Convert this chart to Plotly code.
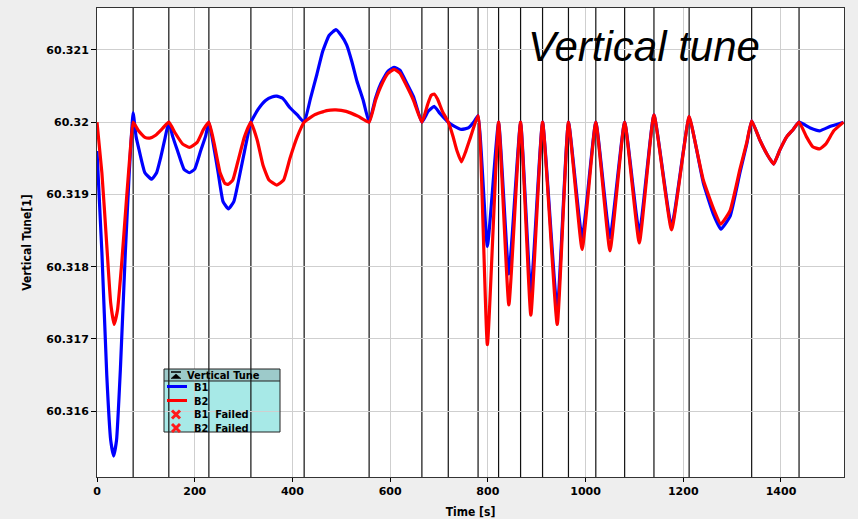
import plotly.graph_objects as go

# ---- data ----
t_b1 = [0, 10, 20, 28, 34, 40, 48, 58, 66, 74,
        80, 86, 98, 112, 122, 130, 138, 147,
        155, 165, 178, 189, 200, 212, 222, 229,
        238, 248, 258, 269, 280, 290, 302, 315,
        330, 345, 358, 368, 380, 395, 410, 424,
        437, 450, 462, 475, 489, 500, 511, 522, 532, 545, 557,
        570, 580, 595, 608, 620, 634, 648, 665,
        678, 690, 702, 719,
        730, 746, 760, 772, 780,
        799, 822, 843, 867, 888, 912, 942, 965, 993, 1021, 1050, 1080, 1110, 1140, 1176, 1212,
        1225, 1241, 1262, 1277, 1296, 1316, 1330, 1340,
        1357, 1372, 1385, 1398, 1412, 1425, 1437,
        1460, 1479, 1500, 1528]
v_b1 = [60.3196, 60.3182, 60.3165, 60.3156, 60.31538, 60.3156, 60.3166, 60.3182, 60.3193, 60.32013,
        60.3198, 60.31962, 60.3193, 60.31921, 60.3193, 60.3195, 60.31974, 60.32,
        60.3198, 60.3196, 60.31935, 60.3193, 60.31935, 60.3196, 60.3198, 60.32,
        60.3197, 60.3193, 60.3189, 60.3188, 60.3189, 60.3192, 60.3196, 60.32,
        60.32018, 60.3203, 60.32035, 60.32036, 60.32033, 60.3202, 60.3201, 60.32,
        60.32033, 60.32066, 60.32098, 60.3212, 60.32128, 60.3212, 60.32107, 60.32083, 60.32057, 60.3203, 60.32,
        60.32033, 60.32052, 60.3207, 60.32076, 60.32072, 60.32054, 60.32035, 60.32,
        60.32015, 60.32022, 60.32012, 60.32,
        60.31995, 60.3199, 60.31992, 60.32001, 60.32009,
        60.31828, 60.32, 60.3179, 60.32, 60.31764, 60.32, 60.3174, 60.32, 60.3184, 60.32,
        60.3184, 60.32, 60.31847, 60.3201, 60.31856, 60.32008,
        60.3197, 60.31916, 60.31872, 60.31852, 60.3187, 60.3193, 60.3197, 60.32002,
        60.31975, 60.31955, 60.31942, 60.31962, 60.3198, 60.3199, 60.32,
        60.31992, 60.31988, 60.31994, 60.32]

t_b2 = [0, 10, 20, 28, 35, 42, 50, 60, 68, 74,
        85, 98, 108, 120, 135, 147,
        160, 175, 189, 205, 218, 229,
        240, 252, 262, 269, 278, 290, 302, 315,
        328, 340, 352, 368, 382, 395, 410, 424,
        445, 470, 489, 510, 535, 557,
        570, 580, 595, 608, 620, 634, 648, 665,
        677, 684, 690, 697, 707, 719,
        728, 737, 746, 755, 765, 780,
        799, 822, 843, 867, 888, 912, 942, 965, 993, 1021, 1050, 1080, 1110, 1140, 1176, 1212,
        1225, 1241, 1262, 1277, 1296, 1316, 1330, 1340,
        1357, 1372, 1385, 1398, 1412, 1425, 1437,
        1452, 1465, 1479, 1492, 1508, 1528]
v_b2 = [60.32, 60.3193, 60.3183, 60.3175, 60.3172, 60.3174, 60.318, 60.3189, 60.3196, 60.32,
        60.31988, 60.31979, 60.31978, 60.31982, 60.31992, 60.32,
        60.31985, 60.3197, 60.31965, 60.31972, 60.3199, 60.32,
        60.3197, 60.3193, 60.31915, 60.31914, 60.3192, 60.3195, 60.3198, 60.32,
        60.31975, 60.3194, 60.3192, 60.31913, 60.3192, 60.3195, 60.3198, 60.32,
        60.3201, 60.32016, 60.32017, 60.32015, 60.32008, 60.32,
        60.3203, 60.32048, 60.32067, 60.32073, 60.32068, 60.3205, 60.3203, 60.32,
        60.32025, 60.32037, 60.32039, 60.32032, 60.32015, 60.32,
        60.31982, 60.3196, 60.31945, 60.3196, 60.3198, 60.32009,
        60.31692, 60.32, 60.31747, 60.32, 60.31733, 60.32, 60.3172, 60.32, 60.31824, 60.32,
        60.31822, 60.32, 60.31833, 60.3201, 60.31851, 60.32008,
        60.3197, 60.3192, 60.3188, 60.31859, 60.31878, 60.31935, 60.31972, 60.32002,
        60.31975, 60.31955, 60.31942, 60.31962, 60.3198, 60.3199, 60.32,
        60.3198, 60.31966, 60.31963, 60.3197, 60.31988, 60.32]

events = [74, 147, 229, 315, 424, 557, 665, 719, 780, 822, 867, 912, 965,
          1021, 1080, 1140, 1212, 1340, 1437]

x_ticks = [0, 200, 400, 600, 800, 1000, 1200, 1400]
y_ticks = [60.316, 60.317, 60.318, 60.319, 60.32, 60.321]
y_tick_labels = ["60.316", "60.317", "60.318", "60.319", "60.32", "60.321"]

legend_title = "Vertical Tune"
legend_items = ["B1", "B2", "B1  Failed", "B2  Failed"]

# ---- layout geometry (pixels) ----
W, H = 858, 519
L, R, T, B = 97, 14, 8, 42
PW, PH = W - L - R, H - T - B


def px(x):
    return (x - L) / PW


def py(y):
    return (H - B - y) / PH


TICKFONT = dict(family="DejaVu Sans, Verdana, sans-serif", size=11, color="black",
                weight="bold")
BOLD = "DejaVu Sans Condensed, DejaVu Sans, Verdana, sans-serif"

fig = go.Figure()
fig.add_trace(go.Scatter(x=t_b1, y=v_b1, mode="lines", name="B1",
                         line=dict(color="#0000ff", width=3.2, shape="spline", smoothing=0.4)))
fig.add_trace(go.Scatter(x=t_b2, y=v_b2, mode="lines", name="B2",
                         line=dict(color="#ff0000", width=3.2, shape="spline", smoothing=0.4)))

shapes = []
# legend background (under the event lines)
shapes.append(dict(type="rect", xref="paper", yref="paper", layer="between",
                   x0=px(164), x1=px(280), y0=py(432), y1=py(369),
                   fillcolor="#a7e9e7", line=dict(width=0)))
shapes.append(dict(type="rect", xref="paper", yref="paper", layer="between",
                   x0=px(164), x1=px(280), y0=py(381), y1=py(369),
                   fillcolor="#9dcaca", line=dict(width=0)))
# event lines
for e in events:
    shapes.append(dict(type="line", xref="x", yref="paper", layer="between",
                       x0=e, x1=e, y0=0, y1=1,
                       line=dict(color="#111", width=1.2)))
# legend borders
shapes.append(dict(type="rect", xref="paper", yref="paper", layer="above",
                   x0=px(164), x1=px(280), y0=py(432), y1=py(369),
                   fillcolor="rgba(0,0,0,0)", line=dict(color="#222", width=1)))
shapes.append(dict(type="line", xref="paper", yref="paper", layer="above",
                   x0=px(164), x1=px(280), y0=py(381), y1=py(381),
                   line=dict(color="#222", width=1)))
# legend header icon
shapes.append(dict(type="line", xref="paper", yref="paper", layer="above",
                   x0=px(171), x1=px(181), y0=py(372), y1=py(372),
                   line=dict(color="black", width=1.5)))
shapes.append(dict(type="path", xref="paper", yref="paper", layer="above",
                   path="M %f %f L %f %f L %f %f Z" % (px(171), py(378.5), px(181), py(378.5),
                                                     px(176), py(374)),
                   fillcolor="black", line=dict(color="black", width=0.5)))
# legend line symbols
shapes.append(dict(type="line", xref="paper", yref="paper", layer="above",
                   x0=px(167), x1=px(187), y0=py(386.5), y1=py(386.5),
                   line=dict(color="#0000ff", width=3)))
shapes.append(dict(type="line", xref="paper", yref="paper", layer="above",
                   x0=px(167), x1=px(187), y0=py(400.5), y1=py(400.5),
                   line=dict(color="#ff0000", width=3)))
# legend "failed" X symbols
for yy in [414.5, 428]:
    for (a, b) in [(-1, 1), (1, -1)]:
        shapes.append(dict(type="line", xref="paper", yref="paper", layer="above",
                           x0=px(176 - 4), x1=px(176 + 4),
                           y0=py(yy + 4 * a), y1=py(yy + 4 * b),
                           line=dict(color="#ff1a1a", width=3)))

annotations = []
annotations.append(dict(text="<i>Vertical tune</i>", xref="paper", yref="paper",
                        x=px(644), y=py(46), xanchor="center", yanchor="middle",
                        showarrow=False,
                        font=dict(family="Liberation Sans, Arial, sans-serif", size=42,
                                  color="black")))
annotations.append(dict(text="<b>%s</b>" % legend_title, xref="paper", yref="paper",
                        x=px(186), y=py(375), xanchor="left", yanchor="middle",
                        showarrow=False, borderpad=0,
                        font=dict(family=BOLD, size=11, color="black")))
for lbl, yy in zip(legend_items, [387.5, 401, 414.5, 428]):
    annotations.append(dict(text="<b>%s</b>" % lbl, xref="paper", yref="paper",
                            x=px(193), y=py(yy), xanchor="left", yanchor="middle",
                            showarrow=False, borderpad=0,
                            font=dict(family=BOLD, size=11, color="black")))

fig.update_layout(
    width=W, height=H,
    margin=dict(l=L, r=R, t=T, b=B, pad=0),
    paper_bgcolor="#eeeeee",
    plot_bgcolor="white",
    showlegend=False,
    shapes=shapes,
    annotations=annotations,
    xaxis=dict(range=[0, 1529], tickvals=x_ticks, ticks="outside", ticklen=4,
               tickcolor="black", showline=True, linecolor="#333", linewidth=1,
               mirror=True, showgrid=True, gridcolor="#cfcfcf", gridwidth=1.3,
               zeroline=False, tickfont=TICKFONT, automargin=False,
               title=dict(text="<b>Time [s]</b>", standoff=10,
                          font=dict(family=BOLD, size=12, color="black"))),
    yaxis=dict(range=[60.31509, 60.32158], tickvals=y_ticks, ticktext=y_tick_labels,
               ticks="outside", ticklen=5, tickcolor="black", showline=True,
               linecolor="#333", linewidth=1, mirror=True, showgrid=True,
               gridcolor="#cfcfcf", gridwidth=1.3, zeroline=False, tickfont=TICKFONT,
               automargin=False,
               title=dict(text="<b>Vertical Tune[1]</b>", standoff=12,
                          font=dict(family=BOLD, size=12, color="black"))),
)

fig.write_html("out.html")
